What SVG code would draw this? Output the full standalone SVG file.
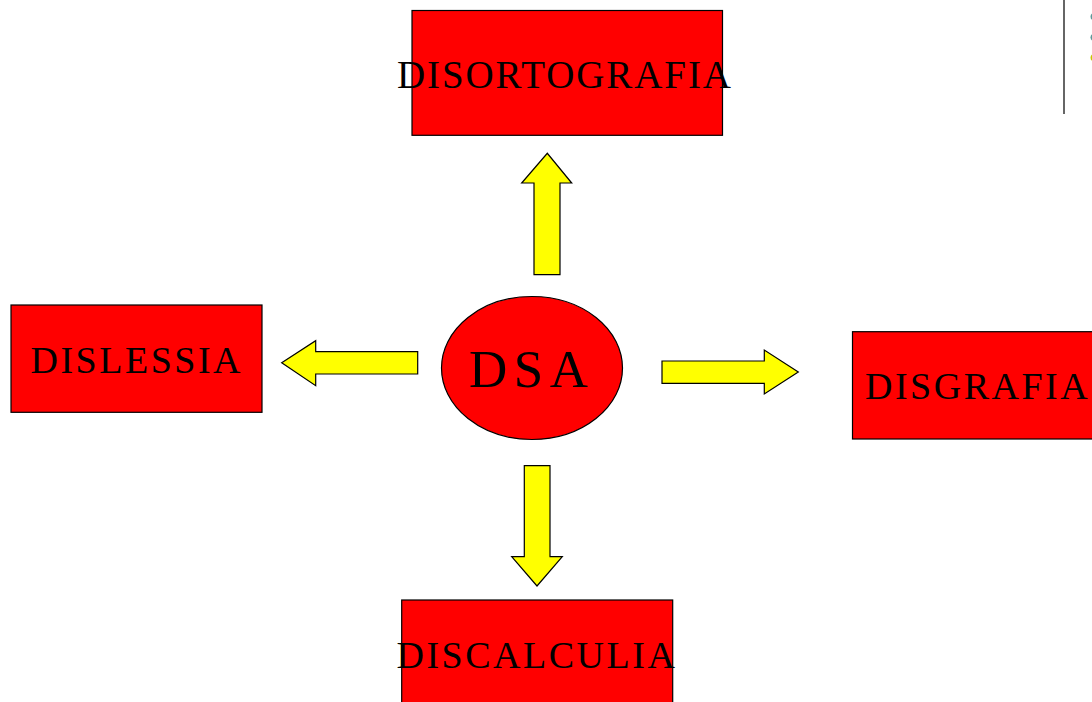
<svg xmlns="http://www.w3.org/2000/svg" width="1092" height="702" viewBox="0 0 1092 702">
<style>
.box{fill:#ff0000;stroke:#000;stroke-width:1.2}
.arr{fill:#ffff00;stroke:#000;stroke-width:1.2;stroke-linejoin:miter}
.lbl{font-family:"Liberation Serif","Times New Roman",serif;font-size:38px;letter-spacing:2.5px;fill:#000}
.big{font-family:"Liberation Serif","Times New Roman",serif;font-size:53px;letter-spacing:6.5px;fill:#000}
</style>
<rect width="1092" height="702" fill="#fff"/>
<g id="decor">
<line x1="1064" y1="0" x2="1064" y2="114" stroke="#333" stroke-width="1.5"/>
<circle cx="1094" cy="16.7" r="3.5" fill="#5f9a9a"/>
<circle cx="1094" cy="37.3" r="3.5" fill="#5f9a9a"/>
<circle cx="1094" cy="57.7" r="3.5" fill="#c8c800"/>
</g>
<g id="connectors">
<polygon class="arr" points="534,274.7 534,183 521.7,183 547.3,153.3 571.7,183 560,183 560,274.7"/>
<polygon class="arr" points="417.7,351.7 315.7,351.7 315.7,340.7 281.7,362.7 315.7,385.7 315.7,374 417.7,374"/>
<polygon class="arr" points="662,361 764.3,361 764.3,350 798.3,372 764.3,394 764.3,383.3 662,383.3"/>
<polygon class="arr" points="524.3,465.7 550,465.7 550,556.7 562.3,556.7 537,586 511.7,556.7 524.3,556.7"/>
</g>
<g id="node-dsa">
<ellipse class="box" cx="532" cy="368" rx="90.5" ry="71.5"/>
<text class="big" x="469" y="386.7">DSA</text>
</g>
<g id="node-disortografia">
<rect class="box" x="412" y="10.5" width="310.5" height="124.8"/>
<text class="lbl" x="397" y="88" style="font-size:39px;letter-spacing:1.9px">DISORTOGRAFIA</text>
</g>
<g id="node-dislessia">
<rect class="box" x="11" y="305" width="251" height="107.3"/>
<text class="lbl" x="30.5" y="372.7">DISLESSIA</text>
</g>
<g id="node-disgrafia">
<rect class="box" x="852.5" y="331.7" width="250" height="107.3"/>
<text class="lbl" x="865" y="399">DISGRAFIA</text>
</g>
<g id="node-discalculia">
<rect class="box" x="401.7" y="600" width="271" height="110"/>
<text class="lbl" x="396.5" y="667.7">DISCALCULIA</text>
</g>
</svg>
